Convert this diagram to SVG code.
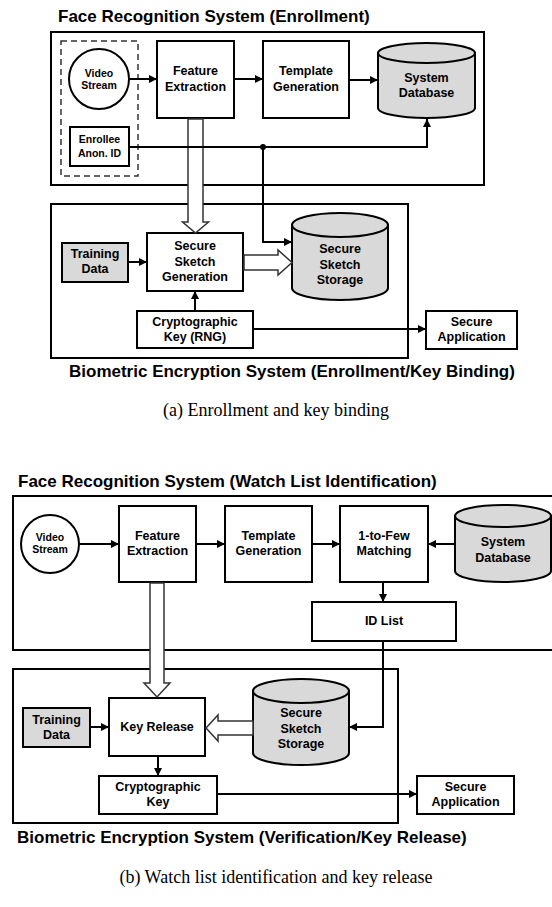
<svg xmlns="http://www.w3.org/2000/svg" width="552" height="907" viewBox="0 0 552 907">
<defs>
<style>
.box{fill:#fff;stroke:#000;stroke-width:2}
.gray{fill:#d9d9d9;stroke:#000;stroke-width:2}
.frame{fill:none;stroke:#000;stroke-width:2}
.dash{fill:none;stroke:#333;stroke-width:1.5;stroke-dasharray:6,4}
.t{font-family:"Liberation Sans",Arial,sans-serif;font-weight:bold;font-size:12.5px;text-anchor:middle;fill:#000}
.ts{font-family:"Liberation Sans",Arial,sans-serif;font-weight:bold;font-size:10.5px;text-anchor:middle;fill:#000}
.title{font-family:"Liberation Sans",Arial,sans-serif;font-weight:bold;font-size:17px;fill:#000}
.cap{font-family:"Liberation Serif","Times New Roman",serif;font-size:18px;text-anchor:middle;fill:#000}
.ln{fill:none;stroke:#000;stroke-width:2}
.arr{fill:none;stroke:#000;stroke-width:2;marker-end:url(#ah)}
.hollow{fill:#fff;stroke:#333;stroke-width:1.5;stroke-linejoin:miter}
</style>
<marker id="ah" viewBox="0 0 10 10" refX="10" refY="5" markerWidth="9" markerHeight="8" markerUnits="userSpaceOnUse" orient="auto"><path d="M0,0 L10,5 L0,10 z" fill="#000"/></marker>
</defs>

<!-- ===== Part (a) ===== -->
<g id="frame-a-top">
<rect class="frame" x="51" y="32" width="433" height="153"/>
<rect class="dash" x="61" y="41" width="77" height="135"/>
<text class="title" x="58" y="22">Face Recognition System (Enrollment)</text>
</g>
<g id="frame-a-bottom">
<rect class="frame" x="51" y="204" width="357" height="154"/>
<text class="title" x="69" y="377">Biometric Encryption System (Enrollment/Key Binding)</text>
</g>

<g id="a-video">
<circle class="box" cx="99" cy="79" r="30"/>
<text class="ts" x="99" y="76.5">Video</text>
<text class="ts" x="99" y="89">Stream</text>
</g>
<g id="a-enrollee">
<rect class="box" x="70" y="127" width="59" height="39"/>
<text class="ts" x="99.5" y="143">Enrollee</text>
<text class="ts" x="99.5" y="157">Anon. ID</text>
</g>
<g id="a-feature">
<rect class="box" x="157" y="41" width="77" height="77"/>
<text class="t" x="195.5" y="75">Feature</text>
<text class="t" x="195.5" y="90.5">Extraction</text>
</g>
<g id="a-template">
<rect class="box" x="263" y="41" width="86" height="77"/>
<text class="t" x="306" y="75">Template</text>
<text class="t" x="306" y="90.5">Generation</text>
</g>
<g id="a-database">
<path class="gray" d="M378,53 V108 A48.5,10 0 0 0 475,108 V53 Z"/>
<ellipse class="gray" cx="426.5" cy="53" rx="48.5" ry="10"/>
<text class="t" x="426.5" y="82">System</text>
<text class="t" x="426.5" y="97">Database</text>
</g>
<g id="a-training">
<rect class="gray" x="62" y="243" width="66" height="39"/>
<text class="t" x="95" y="258">Training</text>
<text class="t" x="95" y="273">Data</text>
</g>
<g id="a-ssg">
<rect class="box" x="147" y="233" width="96" height="58"/>
<text class="t" x="195" y="250">Secure</text>
<text class="t" x="195" y="265.5">Sketch</text>
<text class="t" x="195" y="281">Generation</text>
</g>
<g id="a-storage">
<path class="gray" d="M292,225 V288 A48,12 0 0 0 388,288 V225 Z"/>
<ellipse class="gray" cx="340" cy="225" rx="48" ry="12"/>
<text class="t" x="340" y="253">Secure</text>
<text class="t" x="340" y="268.5">Sketch</text>
<text class="t" x="340" y="284">Storage</text>
</g>
<g id="a-crypto">
<rect class="box" x="137" y="311" width="116" height="37"/>
<text class="t" x="195" y="326">Cryptographic</text>
<text class="t" x="195" y="341">Key (RNG)</text>
</g>
<g id="a-secure-app">
<rect class="box" x="426" y="311" width="91" height="38"/>
<text class="t" x="471.5" y="326">Secure</text>
<text class="t" x="471.5" y="341">Application</text>
</g>

<text id="caption-a" class="cap" x="276" y="416">(a) Enrollment and key binding</text>

<!-- ===== Part (b) ===== -->
<g id="frame-b-top">
<rect class="frame" x="13" y="496" width="545" height="154"/>
<text class="title" x="18" y="487">Face Recognition System (Watch List Identification)</text>
</g>
<g id="frame-b-bottom">
<rect class="frame" x="13" y="669" width="385" height="154"/>
<text class="title" x="17" y="843">Biometric Encryption System (Verification/Key Release)</text>
</g>

<g id="b-video">
<circle class="box" cx="50" cy="544" r="29"/>
<text class="ts" x="50" y="541">Video</text>
<text class="ts" x="50" y="553">Stream</text>
</g>
<g id="b-feature">
<rect class="box" x="119" y="506" width="77" height="76"/>
<text class="t" x="157.5" y="540">Feature</text>
<text class="t" x="157.5" y="555">Extraction</text>
</g>
<g id="b-template">
<rect class="box" x="225" y="506" width="87" height="76"/>
<text class="t" x="268.5" y="540">Template</text>
<text class="t" x="268.5" y="555">Generation</text>
</g>
<g id="b-matching">
<rect class="box" x="340" y="506" width="88" height="76"/>
<text class="t" x="384" y="540">1-to-Few</text>
<text class="t" x="384" y="555">Matching</text>
</g>
<g id="b-database">
<path class="gray" d="M455,516 V571 A48,11 0 0 0 551,571 V516 Z"/>
<ellipse class="gray" cx="503" cy="516" rx="48" ry="11"/>
<text class="t" x="503" y="546">System</text>
<text class="t" x="503" y="561.5">Database</text>
</g>
<g id="b-idlist">
<rect class="box" x="312" y="602" width="144" height="39"/>
<text class="t" x="384" y="625">ID List</text>
</g>
<g id="b-training">
<rect class="gray" x="23" y="708" width="67" height="39"/>
<text class="t" x="56.5" y="724">Training</text>
<text class="t" x="56.5" y="738.5">Data</text>
</g>
<g id="b-keyrelease">
<rect class="box" x="109" y="698" width="96" height="58"/>
<text class="t" x="157" y="731">Key Release</text>
</g>
<g id="b-storage">
<path class="gray" d="M253,691 V753 A48,12 0 0 0 349,753 V691 Z"/>
<ellipse class="gray" cx="301" cy="691" rx="48" ry="12"/>
<text class="t" x="301" y="717">Secure</text>
<text class="t" x="301" y="732.5">Sketch</text>
<text class="t" x="301" y="748">Storage</text>
</g>
<g id="b-crypto">
<rect class="box" x="99" y="776" width="118" height="38"/>
<text class="t" x="158" y="791">Cryptographic</text>
<text class="t" x="158" y="806">Key</text>
</g>
<g id="b-secure-app">
<rect class="box" x="417" y="776" width="97" height="38"/>
<text class="t" x="465.5" y="790.5">Secure</text>
<text class="t" x="465.5" y="806">Application</text>
</g>

<text id="caption-b" class="cap" x="276" y="883">(b) Watch list identification and key release</text>

<!-- ===== Connectors ===== -->
<g id="connectors">
<!-- hollow (feature data) arrows -->
<polygon class="hollow" points="188,119 203,119 203,222 208.5,222 195.5,233 182.5,222 188,222"/>
<polygon class="hollow" points="244,255 278,255 278,250 292,262.5 278,275 278,270 244,270"/>
<polygon class="hollow" points="150,583 164,583 164,683 170,683 157,697 144,683 150,683"/>
<polygon class="hollow" points="253,721 218,721 218,715 206,728 218,741 218,735 253,735"/>

<!-- part (a) -->
<line class="arr" x1="129" y1="79" x2="157" y2="79"/>
<line class="arr" x1="234" y1="79" x2="263" y2="79"/>
<line class="arr" x1="349" y1="80" x2="378" y2="80"/>
<polyline class="arr" points="129,147 427,147 427,119"/>
<polyline class="arr" points="263,147 263,242 292,242"/>
<circle cx="263" cy="147" r="3" fill="#000"/>
<line class="arr" x1="128" y1="262" x2="147" y2="262"/>
<line class="arr" x1="195" y1="311" x2="195" y2="291"/>
<line class="arr" x1="253" y1="329" x2="426" y2="329"/>

<!-- part (b) -->
<line class="arr" x1="79" y1="544" x2="119" y2="544"/>
<line class="arr" x1="196" y1="544" x2="225" y2="544"/>
<line class="arr" x1="312" y1="544" x2="340" y2="544"/>
<line class="arr" x1="455" y1="544" x2="428" y2="544"/>
<line class="arr" x1="383" y1="582" x2="383" y2="602"/>
<polyline class="arr" points="383,641 383,727 349,727"/>
<line class="arr" x1="90" y1="727" x2="109" y2="727"/>
<line class="arr" x1="158" y1="756" x2="158" y2="776"/>
<line class="arr" x1="217" y1="794" x2="417" y2="794"/>
</g>
</svg>
